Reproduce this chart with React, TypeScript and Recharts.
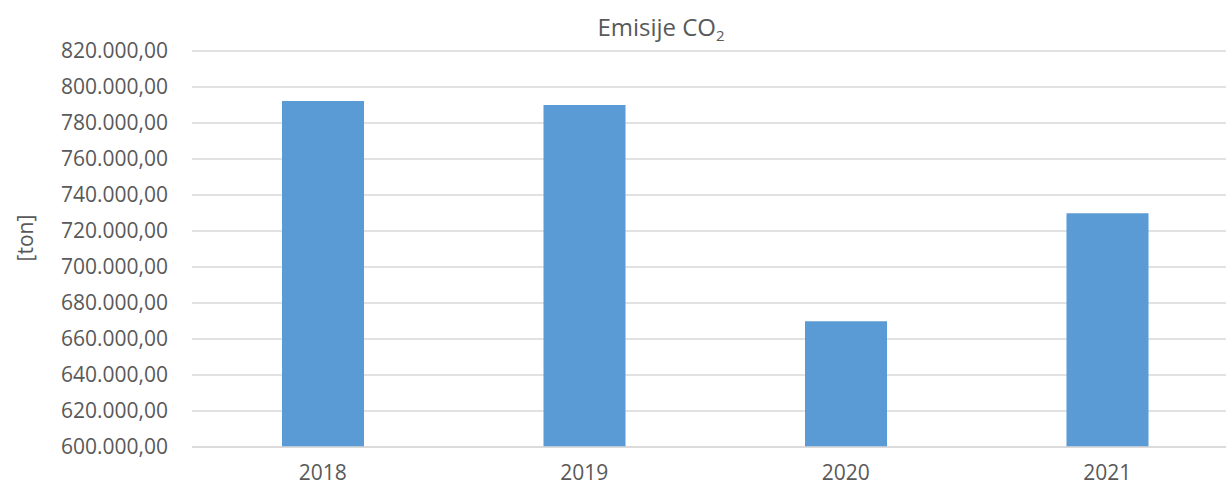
import { BarChart, Bar, XAxis, YAxis, CartesianGrid } from 'recharts'

const years = ['2018', '2019', '2020', '2021']
const emissions = [792200, 790000, 669900, 729800]
const yTicks = [600000, 620000, 640000, 660000, 680000, 700000, 720000, 740000, 760000, 780000, 800000, 820000]

const data = years.map((year, i) => ({ year, value: emissions[i] }))

const textColor = '#595959'
const font = '"Open Sans", sans-serif'

// 820000 -> "820.000,00"
function formatTon(v: number) {
  const s = Math.round(v).toString().replace(/\B(?=(\d{3})+(?!\d))/g, '.')
  return s + ',00'
}

export default function App() {
  return (
    <div
      style={{
        position: 'absolute',
        left: 0,
        top: 0,
        width: 1226,
        height: 486,
        overflow: 'hidden',
        background: '#fff',
        fontFamily: font,
      }}
    >
      <div
        style={{
          position: 'absolute',
          top: 15,
          left: 0,
          width: 1322,
          textAlign: 'center',
          fontSize: 24,
          lineHeight: '24px',
          color: textColor,
        }}
      >
        Emisije CO<sub style={{ fontSize: 15, verticalAlign: '-5px', lineHeight: 0 }}>2</sub>
      </div>
      <BarChart
        width={1250}
        height={486}
        data={data}
        margin={{ top: 51, right: 12, left: 0, bottom: 0 }}
        barSize={82}
      >
        <CartesianGrid vertical={false} stroke="#d9d9d9" strokeWidth={1.5} />
        <XAxis
          dataKey="year"
          height={39}
          axisLine={{ stroke: '#d9d9d9', strokeWidth: 1.5 }}
          tickLine={false}
          tickSize={0}
          tickMargin={18}
          tick={{ fill: textColor, fontSize: 21, fontFamily: font }}
        />
        <YAxis
          width={192}
          domain={[600000, 820000]}
          ticks={yTicks}
          interval={0}
          axisLine={false}
          tickLine={false}
          tickSize={0}
          tickMargin={24}
          tickFormatter={formatTon}
          tick={{ fill: textColor, fontSize: 21, fontFamily: font }}
          label={{
            value: '[ton]',
            content: () => (
              <text
                x={25}
                y={238}
                transform="rotate(-90 25 238)"
                textAnchor="middle"
                dominantBaseline="central"
                fill={textColor}
                fontSize={21}
                fontFamily={font}
              >
                [ton]
              </text>
            ),
          }}
        />
        <Bar dataKey="value" fill="#5b9bd5" isAnimationActive={false} />
      </BarChart>
    </div>
  )
}
